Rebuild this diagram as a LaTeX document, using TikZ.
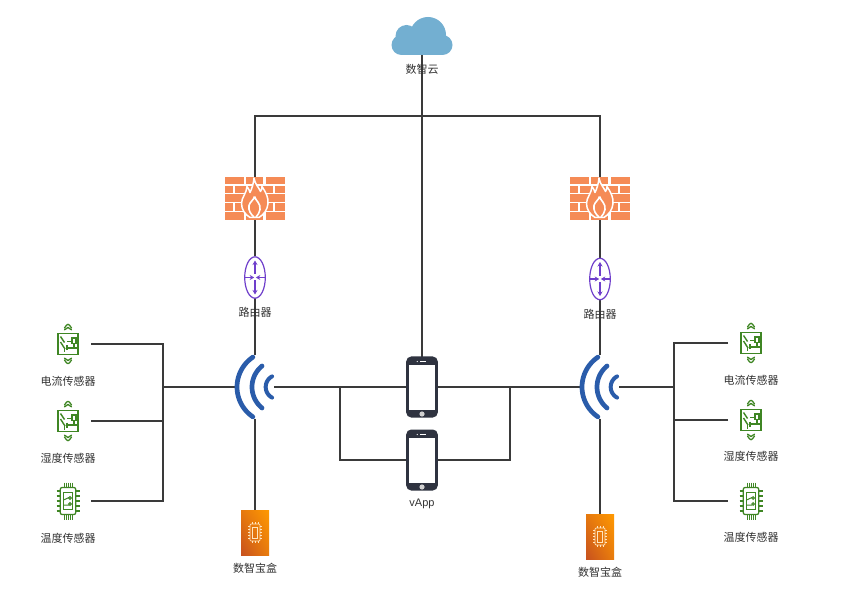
\documentclass[tikz,border=0pt]{standalone}
\usepackage{fontspec}
\setmainfont{Noto Sans CJK SC}
\newfontfamily\latinlabel{Liberation Sans}
\usetikzlibrary{shapes.geometric,arrows.meta,shadings}
\definecolor{wire}{HTML}{3A3A3A}
\definecolor{brick}{HTML}{F58B56}
\definecolor{wifiblue}{HTML}{2A5CAA}
\definecolor{routerpurple}{HTML}{6F3FCB}
\definecolor{sensorgreen}{HTML}{3F8624}
\definecolor{cloudblue}{HTML}{73AFD1}
\definecolor{phonedark}{HTML}{2F3340}
\definecolor{labelgrey}{HTML}{333333}
\definecolor{boxdark}{HTML}{C7511F}
\definecolor{boxlight}{HTML}{FF9900}
\tikzset{
  anchorbox/.style={rectangle,inner sep=0pt,outer sep=0pt,minimum width=#1},
  connector/.style={draw=wire,line width=1.5pt},
  caption/.style={font=\fontsize{11}{13}\selectfont,text=labelgrey,inner sep=0pt,fill=none,yshift=-0.7pt},
  pics/firewall/.style={code={
    \foreach \a/\b/\t/\h in {
      -30/-11.5/-21.5/7.5, -9/8/-21.5/7.5, 10.5/30/-21.5/7.5,
      -30/-22.5/-12.7/7.5, -20.5/-3/-12.7/7.5, -1/18/-12.7/7.5, 20/30/-12.7/7.5,
      -30/-11.5/-4/7.5, -9/8/-4/7.5, 10.5/30/-4/7.5,
      -30/-22.5/4.6/7.5, -20.5/-3/4.6/7.5, -1/18/4.6/7.5, 20/30/4.6/7.5,
      -30/-11.5/13.2/8, -9/8/13.2/8, 10.5/30/13.2/8}
      {\fill[brick] (\a,\t) rectangle (\b,\t+\h);}
    \path[fill=brick,draw=white,line width=1.5pt,line join=round]
      (-1,-20.5) .. controls (0,-14) and (4,-11) .. (5.5,-7)
      .. controls (6.5,-8.5) and (7,-10) .. (7,-12)
      .. controls (11,-6) and (13.5,-1) .. (13,5)
      .. controls (12.5,11) and (9,16) .. (4,19)
      -- (-5,19) .. controls (-10,16) and (-13.5,11) .. (-13.5,5)
      .. controls (-13.5,-1) and (-8.5,-5) .. (-8,-12)
      .. controls (-6.5,-10) and (-5.5,-8) .. (-5,-6)
      .. controls (-3,-10) and (-1.5,-15) .. (-1,-20.5) -- cycle;
    \path[draw=white,line width=1.6pt,line join=round]
      (-0.5,-2) .. controls (0.5,2) and (6,5) .. (5,11)
      .. controls (4.5,14) and (3,16.5) .. (1,18.5)
      (-1,18.5) .. controls (-4,16) and (-7,12) .. (-6,7)
      .. controls (-5,3) and (-1.5,2) .. (-0.5,-2);
  }},
  pics/router/.style={code={
    \draw[routerpurple,line width=1.2pt,fill=white] (0,0) ellipse [x radius=10.3,y radius=20.7];
    \begin{scope}[routerpurple,line width=1.3pt,>={Stealth[length=4.5pt,width=5pt]}]
      \draw[->] (0,-5) -- (0,-17);
      \draw[->] (0,5) -- (0,17);
      \draw (0,-6) -- (0,-3) (0,3) -- (0,6);
      \draw[->] (-10,0) -- (-0.8,0);
      \draw[->] (10,0) -- (0.8,0);
    \end{scope}
  }},
  pics/wifi/.style={code={
    \begin{scope}[wifiblue,line width=4.7pt,line cap=round]
      \draw[domain=-56:56,samples=25,smooth] plot ({18-36*cos(\x)},{36*sin(\x)});
      \draw[domain=-51:51,samples=21,smooth] plot ({24-27*cos(\x)},{27*sin(\x)});
      \draw[line width=4pt,domain=-62:62,samples=17,smooth] plot ({22.7-12*cos(\x)},{12*sin(\x)});
    \end{scope}
  }},
  pics/phone/.style={code={
    \fill[phonedark,rounded corners=5pt] (-15.8,-30.5) rectangle (15.8,30.5);
    \fill[white] (-13.3,-21.8) rectangle (13.3,23);
    \fill[white] (-4.8,-25.5) circle (0.7);
    \fill[white] (-2.5,-25.8) rectangle (4,-25.1);
    \fill[white!82!black] (0,27) circle (2.6);
  }},
  pics/switchsensor/.style={code={
    \begin{scope}[sensorgreen]
      \draw[line width=1.6pt,fill=white] (-10,-10.6) rectangle (10,10.6);
      \draw[line width=1.4pt] (-7.5,-7.5) -- (-3.5,-1.5);
      \draw[line width=1.4pt] (-7.5,-2) -- (-3,5);
      \draw[line width=1.4pt] (-3.5,5) -- (-3.5,8.5);
      \draw[line width=1.3pt] (-1,-2.5) -- (4,-2.5) (4,-6) rectangle (8,-0.8) (6,-0.8) -- (6,4) (-1,4) -- (8.5,4) (-1,1.5) -- (-1,6.5);
      \draw[line width=1.3pt,line cap=round,line join=round] (-3.5,-16) .. controls (-2,-18.5) and (-1,-19.5) .. (0,-19.7) .. controls (1,-19.5) and (2,-18.5) .. (3.5,-16);
      \draw[line width=1.3pt,line cap=round,line join=round] (-3.5,-14.2) -- (0,-16.5) -- (3.5,-14.2);
      \draw[line width=1.3pt,line cap=round,line join=round] (-3.5,16) .. controls (-2,18.5) and (-1,19.5) .. (0,19.7) .. controls (1,19.5) and (2,18.5) .. (3.5,16);
      \draw[line width=1.3pt,line cap=round,line join=round] (-3.5,14.2) -- (0,16.5) -- (3.5,14.2);
    \end{scope}
  }},
  pics/chipsensor/.style={code={
    \begin{scope}[sensorgreen]
      \draw[line width=1.3pt,rounded corners=2pt,fill=white] (-7.8,-13.5) rectangle (7.8,13.5);
      \foreach \d in {-4,-2,0,2,4}{
        \draw[line width=0.9pt] (\d,-18.5) -- (\d,-13.5) (\d,13.5) -- (\d,18.5);
      }
      \foreach \d in {-10,-5,0,5,10}{
        \draw[line width=1.5pt] (-11.5,\d) -- (-8,\d) (8,\d) -- (11.5,\d);
      }
      \draw[line width=1.1pt,fill=white] (-4.5,-8.5) rectangle (4.5,8.5);
      \draw[line width=1pt] (-4.5,-1) -- (1,-3.5) (-4.5,4) -- (1,4);
      \draw[line width=1pt] (2,-3) circle (1.3) (2,3) circle (1.3);
    \end{scope}
  }},
  pics/vault/.style={code={
    \shade[lower left=boxdark,lower right=boxlight!60!boxdark,upper left=boxlight!55!boxdark,upper right=boxlight] (-14,-22.5) rectangle (14,22.5);
    \begin{scope}[white!75!boxlight]
      \draw[line width=0.7pt,rounded corners=1pt] (-5,-8.5) rectangle (5,8.5);
      \draw[line width=0.7pt] (-2.8,-5.5) rectangle (2.8,5.5);
      \foreach \d in {-3,0,3}{
        \draw[line width=0.5pt] (\d,-10.5) -- (\d,-8.5) (\d,8.5) -- (\d,10.5);
      }
      \foreach \d in {-6,-3,0,3,6}{
        \draw[line width=0.5pt] (-7,\d) -- (-5,\d) (5,\d) -- (7,\d);
      }
    \end{scope}
  }},
  pics/cloudicon/.style={code={
    \fill[cloudblue] (6,-1) circle (18);
    \fill[cloudblue] (-15.5,0) circle (11);
    \fill[cloudblue] (-20.5,9) circle (10);
    \fill[cloudblue] (20.5,9) circle (10);
    \fill[cloudblue] (-20.5,3) rectangle (20.5,19);
  }},
}
\begin{document}
\begin{tikzpicture}[x=1pt,y=-1pt]
\useasboundingbox (0,0) rectangle (843,601);
\fill[white] (0,0) rectangle (843,601);

% anchors for connectors
\node[anchorbox=61pt,minimum height=38pt] (cloud) at (422,36) {};
\node[anchorbox=60pt,minimum height=43pt] (fwL) at (255,198.5) {};
\node[anchorbox=60pt,minimum height=43pt] (fwR) at (600,198.5) {};
\node[anchorbox=21pt,minimum height=42pt] (rtL) at (255,277.5) {};
\node[anchorbox=21pt,minimum height=42pt] (rtR) at (600,279) {};
\node[anchorbox=38pt,minimum height=63pt] (wfL) at (255,387) {};
\node[anchorbox=38pt,minimum height=63pt] (wfR) at (600,387) {};
\node[anchorbox=31pt,minimum height=60pt] (ph1) at (422,387) {};
\node[anchorbox=31pt,minimum height=60pt] (ph2) at (422,460) {};
\node[anchorbox=28pt,minimum height=45pt] (vaL) at (255,532.5) {};
\node[anchorbox=28pt,minimum height=45pt] (vaR) at (600,536.5) {};
\node[anchorbox=46pt,minimum height=20pt] (s1L) at (68,344) {};
\node[anchorbox=46pt,minimum height=20pt] (s2L) at (68,421) {};
\node[anchorbox=46pt,minimum height=20pt] (s3L) at (68,501) {};
\node[anchorbox=46pt,minimum height=20pt] (s1R) at (751,343) {};
\node[anchorbox=46pt,minimum height=20pt] (s2R) at (751,420) {};
\node[anchorbox=46pt,minimum height=20pt] (s3R) at (751,501) {};
\coordinate (top) at (422,116);
\coordinate (busL) at (163,387);
\coordinate (busR) at (674,387);
\coordinate (tapL) at (340,387);
\coordinate (tapR) at (510,387);

% connectors
\draw[connector] (cloud.south) -- (ph1.north);
\draw[connector] (fwL.north) -- (fwL.north|-top) -- (fwR.north|-top) -- (fwR.north);
\draw[connector] (fwL.south) -- (rtL.north);
\draw[connector] (fwR.south) -- (rtR.north);
\draw[connector] (rtL.south) -- (wfL.north);
\draw[connector] (rtR.south) -- (wfR.north);
\draw[connector] (wfL.south) -- (vaL.north);
\draw[connector] (wfR.south) -- (vaR.north);
\draw[connector] (wfL.east) -- (ph1.west);
\draw[connector] (ph1.east) -- (wfR.west);
\draw[connector] (tapL) -- (tapL|-ph2.west) -- (ph2.west);
\draw[connector] (tapR) -- (tapR|-ph2.east) -- (ph2.east);
\draw[connector] (wfL.west) -- (busL);
\draw[connector] (s1L.east) -- (s1L.east-|busL) -- (s3L.east-|busL) -- (s3L.east);
\draw[connector] (s2L.east) -- (s2L.east-|busL);
\draw[connector] (wfR.east) -- (busR);
\draw[connector] (s1R.west) -- (s1R.west-|busR) -- (s3R.west-|busR) -- (s3R.west);
\draw[connector] (s2R.west) -- (s2R.west-|busR);

% icons
\pic at (cloud.center) {cloudicon};
\pic at (fwL.center) {firewall};
\pic at (fwR.center) {firewall};
\pic at (rtL.center) {router};
\pic at (rtR.center) {router};
\pic at (wfL.center) {wifi};
\pic at (wfR.center) {wifi};
\pic at (ph1.center) {phone};
\pic at (ph2.center) {phone};
\pic at (vaL.center) {vault};
\pic at (vaR.center) {vault};
\pic at (s1L.center) {switchsensor};
\pic at (s2L.center) {switchsensor};
\pic at (s3L.center) {chipsensor};
\pic at (s1R.center) {switchsensor};
\pic at (s2R.center) {switchsensor};
\pic at (s3R.center) {chipsensor};

% labels
\node[caption] (t0) at (422,69) {数智云};
\node[caption] (t1) at (255,312) {路由器};
\node[caption] (t2) at (600,314) {路由器};
\node[caption] (t3) at (68,380.5) {电流传感器};
\node[caption] (t4) at (68,457.5) {湿度传感器};
\node[caption] (t5) at (68,538) {温度传感器};
\node[caption] (t6) at (751,379.5) {电流传感器};
\node[caption] (t7) at (751,456) {湿度传感器};
\node[caption] (t8) at (751,537) {温度传感器};
\node[caption] (t9) at (255,568) {数智宝盒};
\node[caption] (t10) at (600,572) {数智宝盒};
\node[caption,font=\latinlabel\fontsize{11}{13}\selectfont] (t11) at (422,503) {vApp};
\end{tikzpicture}
\end{document}
